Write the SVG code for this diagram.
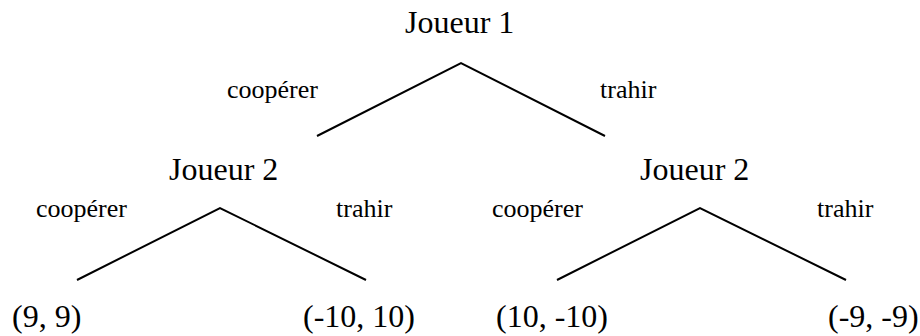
<svg xmlns="http://www.w3.org/2000/svg" width="920" height="336" viewBox="0 0 920 336">
<style>
.big{font-family:"Liberation Serif","Times New Roman",serif;font-size:32px;fill:#000}
.lbl{font-family:"Liberation Serif","Times New Roman",serif;font-size:26px;fill:#000}
.edge{stroke:#000;stroke-width:2;fill:none}
</style>
<rect width="920" height="336" fill="#fff"/>
<g id="connectors">
<polyline class="edge" points="317,136 461,63 605,136"/>
<polyline class="edge" points="77,280 220,208 366,280"/>
<polyline class="edge" points="557,280 700,208 846,280"/>
</g>
<g id="edge-labels">
<text class="lbl" x="227" y="98">coopérer</text>
<text class="lbl" x="600" y="98">trahir</text>
<text class="lbl" x="36" y="217">coopérer</text>
<text class="lbl" x="336" y="217">trahir</text>
<text class="lbl" x="492" y="217">coopérer</text>
<text class="lbl" x="817" y="217">trahir</text>
</g>
<g id="j1"><text class="big" x="405" y="33">Joueur 1</text></g>
<g id="j2a"><text class="big" x="169" y="180">Joueur 2</text></g>
<g id="j2b"><text class="big" x="640" y="180">Joueur 2</text></g>
<g id="p1"><text class="big" x="12" y="327">(9, 9)</text></g>
<g id="p2"><text class="big" x="303" y="327">(-10, 10)</text></g>
<g id="p3"><text class="big" x="496" y="327">(10, -10)</text></g>
<g id="p4"><text class="big" x="828" y="327">(-9, -9)</text></g>
</svg>
